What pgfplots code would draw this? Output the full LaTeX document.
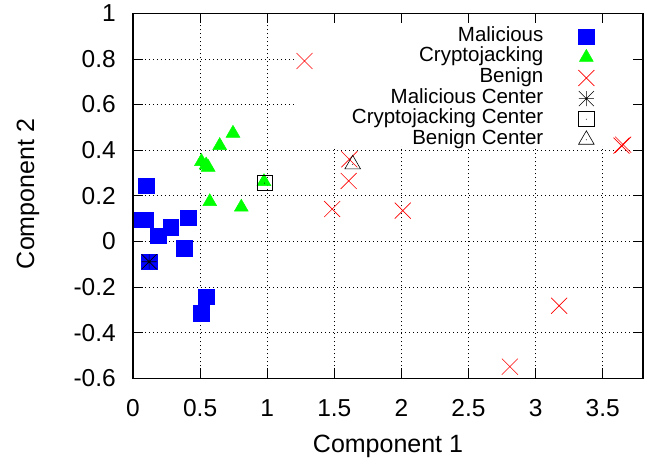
\documentclass[border=0pt]{standalone}
\usepackage{fontspec}
\setmainfont{Liberation Sans}
\usepackage{pgfplots}
\pgfplotsset{compat=1.18}
\pgfdeclareplotmark{gpstar}{%
 \pgfpathmoveto{\pgfqpoint{-\pgfplotmarksize}{0pt}}\pgfpathlineto{\pgfqpoint{\pgfplotmarksize}{0pt}}%
 \pgfpathmoveto{\pgfqpoint{0pt}{-\pgfplotmarksize}}\pgfpathlineto{\pgfqpoint{0pt}{\pgfplotmarksize}}%
 \pgfpathmoveto{\pgfqpoint{-\pgfplotmarksize}{-\pgfplotmarksize}}\pgfpathlineto{\pgfqpoint{\pgfplotmarksize}{\pgfplotmarksize}}%
 \pgfpathmoveto{\pgfqpoint{-\pgfplotmarksize}{\pgfplotmarksize}}\pgfpathlineto{\pgfqpoint{\pgfplotmarksize}{-\pgfplotmarksize}}%
 \pgfusepathqstroke}
\pgfdeclareplotmark{squaredot}{%
 \pgfpathrectangle{\pgfqpoint{-\pgfplotmarksize}{-\pgfplotmarksize}}{\pgfqpoint{2\pgfplotmarksize}{2\pgfplotmarksize}}%
 \pgfusepathqstroke
 \pgfpathcircle{\pgfpointorigin}{0.5pt}\pgfusepathqfill}
\pgfdeclareplotmark{triangledot}{%
 \pgfpathmoveto{\pgfqpoint{0pt}{\pgfplotmarksize}}%
 \pgfpathlineto{\pgfqpoint{-.866\pgfplotmarksize}{-.5\pgfplotmarksize}}%
 \pgfpathlineto{\pgfqpoint{.866\pgfplotmarksize}{-.5\pgfplotmarksize}}%
 \pgfpathclose\pgfusepathqstroke
 \pgfpathcircle{\pgfpointorigin}{0.5pt}\pgfusepathqfill}
\definecolor{gpblue}{RGB}{0,0,255}
\definecolor{gpgreen}{RGB}{0,255,0}
\definecolor{gpred}{RGB}{255,0,0}
\newcommand{\tkfont}{\fontsize{24.5}{28}\selectfont}
\newcommand{\axfont}{\fontsize{25}{29}\selectfont}
\newcommand{\lgfont}{\fontsize{20.5}{24}\selectfont}
\begin{document}
\begin{tikzpicture}
\begin{axis}[
  scale only axis, width=510pt, height=365pt,
  xmin=0, xmax=3.8, ymin=-0.6, ymax=1,
  xtick={0,0.5,1,1.5,2,2.5,3,3.5},
  xticklabels={0,0.5,1,1.5,2,2.5,3,3.5},
  ytick={-0.6,-0.4,-0.2,0,0.2,0.4,0.6,0.8,1},
  yticklabels={-0.6,-0.4,-0.2,0,0.2,0.4,0.6,0.8,1},
  tick align=inside, xtick pos=both, ytick pos=both,
  major tick length=10pt,
  every tick/.style={black, line width=0.8pt},
  axis line style={black, line width=1.3pt},
  grid=major,
  grid style={black, line width=0.8pt, dash pattern=on 1pt off 3pt},
  xticklabel style={anchor=north, inner sep=0pt, yshift=-21pt, font=\tkfont},
  yticklabel style={anchor=east, inner sep=0pt, xshift=-17pt, font=\tkfont},
  xlabel={Component 1},
  ylabel={Component 2},
  xlabel style={at={(axis description cs:0.5,-0.2027)}, anchor=base, inner sep=0pt, font=\axfont},
  ylabel style={at={(axis description cs:-0.194,0.505)}, anchor=base, rotate=0, inner sep=0pt, font=\axfont},
  legend cell align=right,
  legend plot pos=right,
  legend style={at={(0.905,0.9644)}, anchor=north east, draw=none, fill=none,
    inner sep=0pt, font=\lgfont,
    nodes={inner sep=0pt, text height=14.8pt, text depth=5.8pt},
    /tikz/column sep=35pt},
]
\fill[white] (axis cs:1.196,0.42) rectangle (axis cs:3.71,0.952);
\addplot[only marks, mark=square*, mark size=7.8pt, color=gpblue, line width=0.5pt]
 coordinates {(0.10,0.244)(0.065,0.095)(0.09,0.095)(0.19,0.025)(0.28,0.063)(0.41,0.103)(0.38,-0.03)(0.12,-0.089)(0.546,-0.242)(0.51,-0.314)};
\addlegendentry{Malicious}
\addplot[only marks, mark=triangle*, mark size=8pt, color=gpgreen, line width=0.5pt]
 coordinates {(0.745,0.474)(0.646,0.42)(0.51,0.35)(0.545,0.335)(0.56,0.325)(0.572,0.174)(0.807,0.15)(0.976,0.262)};
\addlegendentry{Cryptojacking}
\addplot[only marks, mark=x, mark size=11.3pt, color=gpred, line width=0.6pt]
 coordinates {(1.278,0.791)(1.612,0.36)(1.607,0.265)(1.484,0.142)(2.01,0.135)(3.175,-0.282)(2.808,-0.549)(3.64,0.42)(3.652,0.424)};
\addlegendentry{Benign}
\addplot[only marks, mark=gpstar, mark size=7.5pt, color=black, line width=0.6pt]
 coordinates {(0.12,-0.089)};
\addlegendentry{Malicious Center}
\addplot[only marks, mark=squaredot, mark size=7.6pt, color=black, line width=0.6pt]
 coordinates {(0.98,0.256)};
\addlegendentry{Cryptojacking Center}
\addplot[only marks, mark=triangledot, mark size=9pt, color=black, line width=0.6pt]
 coordinates {(1.637,0.338)};
\addlegendentry{Benign Center}
\end{axis}
\path ([shift={(-133pt,-83pt)}]current axis.south west) rectangle ([shift={(18pt,13.3pt)}]current axis.north east);
\end{tikzpicture}
\end{document}
